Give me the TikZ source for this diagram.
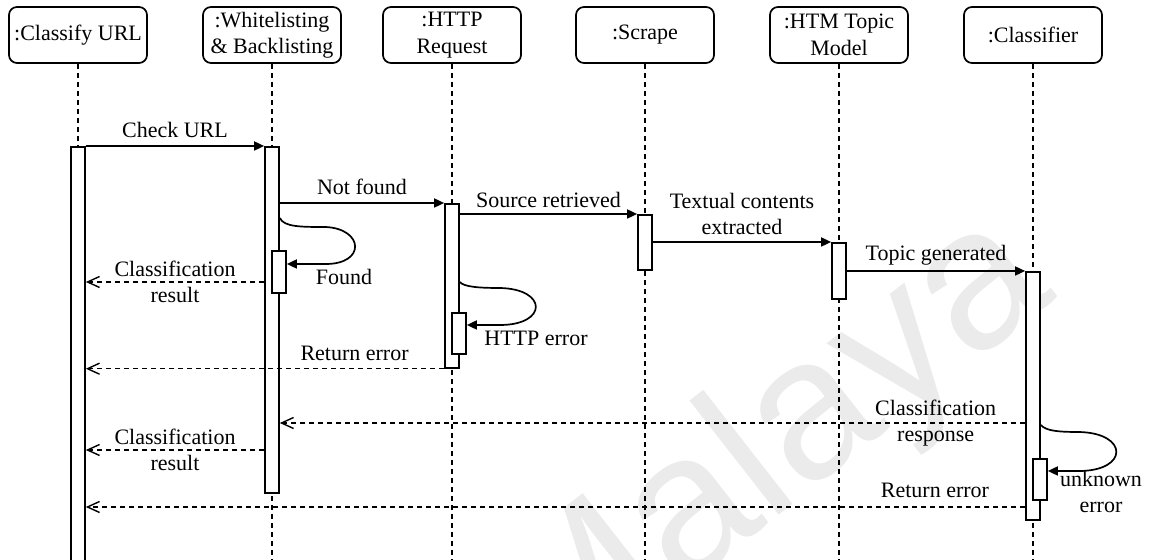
\documentclass[tikz,border=0pt]{standalone}
\usepackage{fontspec}
\setmainfont{Liberation Serif}
\newfontfamily\wmfont{Liberation Sans}
\usetikzlibrary{arrows.meta,calc}
\newcommand\seqfont{\fontsize{11}{13.25}\selectfont}

\begin{document}
\begin{tikzpicture}[x=0.5pt,y=-0.5pt,
  head/.style={draw, line width=0.85pt, rounded corners=4pt, minimum width=69pt,
               minimum height=28pt, inner sep=0pt, align=center, font=\seqfont},
  bar/.style={draw, line width=0.85pt, fill=white, minimum width=7pt,
              inner sep=0pt, anchor=north},
  lifeline/.style={line width=0.7pt, dash pattern=on 2.5pt off 2pt},
  call/.style={line width=0.85pt, -{Triangle[length=5pt,width=4.5pt]}},
  reply/.style={line width=0.7pt, dash pattern=on 2.5pt off 2pt,
                -{Straight Barb[length=6pt,width=5.5pt]}},
  self/.style={line width=0.85pt, -{Triangle[length=5pt,width=4.5pt]}},
  lab/.style={font=\seqfont, inner sep=0pt, align=center},
]
\useasboundingbox (0,0) rectangle (1153,560);
\clip (0,0) rectangle (1153,560);

% faint watermark behind the diagram
\node[rotate=38, text=black!8, inner sep=0pt,
      font=\wmfont\fontsize{100}{100}\selectfont] (mark) at (772,455) {Malaya};

% lifeline heads
\node[head] (h1) at (78,35)   {:Classify URL};
\node[head] (h2) at (272,35)  {:Whitelisting\\\& Backlisting};
\node[head] (h3) at (452,35)  {:HTTP\\Request};
\node[head] (h4) at (645,35)  {:Scrape};
\node[head] (h5) at (839,35)  {:HTM Topic\\Model};
\node[head] (h6) at (1033,35) {:Classifier};

% dashed lifelines
\coordinate (bot) at (0,562);
\foreach \h in {h1,h2,h3,h4,h5,h6}
  \draw[lifeline] (\h.south) -- (\h.south |- bot);

% activation bars
\node[bar, minimum height=210pt] (a1)  at (78,146)   {};
\node[bar, minimum height=173pt] (a2)  at (272,146)  {};
\node[bar, minimum height=21pt]  (a2b) at (279,250)  {};
\node[bar, minimum height=82pt]  (a3)  at (452,203)  {};
\node[bar, minimum height=20.5pt](a3b) at (459,312)  {};
\node[bar, minimum height=27.5pt](a4)  at (645,214)  {};
\node[bar, minimum height=28pt]  (a5)  at (839,242)  {};
\node[bar, minimum height=124pt] (a6)  at (1033,271) {};
\node[bar, minimum height=20.5pt](a6b) at (1040,458) {};

% synchronous calls
\draw[call] (a1.north east) -- (a2.north west)
  node[lab, midway, yshift=8pt] {Check URL};
\draw[call] (a2.east |- a3.north) -- (a3.north west)
  node[lab, midway, yshift=8pt] {Not found};
\draw[call] (a3.east |- a4.north) -- (a4.north west)
  node[lab, midway, yshift=7pt] {Source retrieved};
\draw[call] (a4.east |- a5.north) -- (a5.north west)
  node[lab, midway, yshift=14pt] {Textual contents\\extracted};
\draw[call] (a5.east |- a6.north) -- (a6.north west)
  node[lab, midway, yshift=8pt] {Topic generated};

% self calls
\coordinate (f0) at ($(a2.north east)+(0,72)$);
\coordinate (f1) at ($(a2b.north east)+(0,14)$);
\draw[self] (f0) .. controls +(4,9) and +(-25,0) .. ++(46,9)
  .. controls +(38,2) and +(40,0) .. ++(0,37) -- (f1);
\node[lab] (foundlab) at (344,277) {Found};

\coordinate (e0) at ($(a3.north east)+(0,79)$);
\coordinate (e1) at ($(a3b.north east)+(0,13)$);
\draw[self] (e0) .. controls +(4,5) and +(-20,0) .. ++(40,6)
  .. controls +(48,1) and +(48,0) .. ++(0,37) -- (e1);
\node[lab] (httperr) at (536,338) {HTTP error};

\coordinate (u0) at ($(a6.north east)+(0,154)$);
\coordinate (u1) at ($(a6b.north east)+(0,13)$);
\draw[self] (u0) .. controls +(5,6) and +(-20,0) .. ++(38,7)
  .. controls +(50,1) and +(50,0) .. ++(0,39) -- (u1);
\node[lab] (unkerr) at (1101,492) {unknown\\error};

% replies
\coordinate (r1) at ($(a2.north west)+(0,136)$);
\draw[reply] (r1) -- (a1.east |- r1)
  node[lab, midway] {Classification\\result};
\draw[reply] (a3.south west) -- (a1.east |- a3.south)
  node[lab, pos=0.25, yshift=7.5pt] {Return error};
\coordinate (r3) at ($(a6.north west)+(0,152)$);
\draw[reply] (r3) -- (a2.east |- r3)
  node[lab, pos=0.12] {Classification\\response};
\coordinate (r4) at ($(a2.north west)+(0,304)$);
\draw[reply] (r4) -- (a1.east |- r4)
  node[lab, midway] {Classification\\result};
\coordinate (r5) at ($(a6.north west)+(0,236)$);
\draw[reply] (r5) -- (a1.east |- r5)
  node[lab, pos=0.096, yshift=8.5pt] {Return error};
\end{tikzpicture}
\end{document}
